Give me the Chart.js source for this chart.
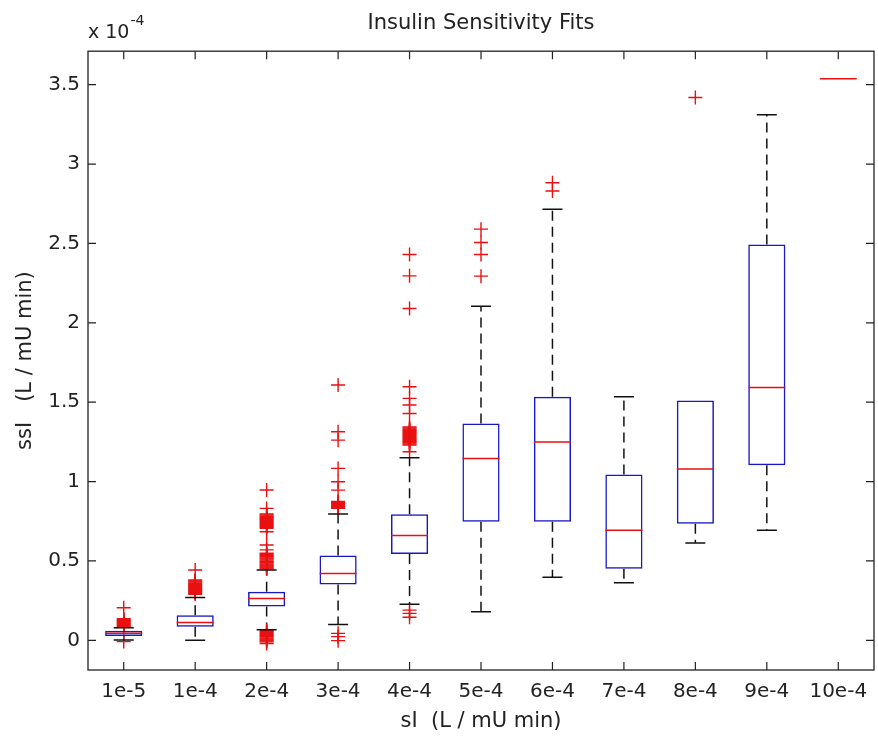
<!DOCTYPE html>
<html lang="en">
<head>
<meta charset="utf-8" />
<title>Insulin Sensitivity Fits</title>
<script src="https://cdn.jsdelivr.net/npm/chart.js@4.4"></script>
<style>
  html,body{margin:0;padding:0;background:#fff;}
  #wrap{width:878px;height:738px;position:relative;}
</style>
</head>
<body>
<div id="wrap"><canvas id="box"></canvas></div>

<script>
/***** ---------- Data (units of 1e-4 L / mU min) ---------- *****/
const labels =['1e-5','1e-4','2e-4','3e-4','4e-4','5e-4','6e-4','7e-4','8e-4','9e-4','10e-4'];
const q1     =[0.027,0.086,0.213,0.352,0.544,0.747,0.747,0.451,0.734,1.102,3.537];
const median =[0.045,0.113,0.263,0.421,0.660,1.146,1.250,0.693,1.079,1.593,3.537];
const q3     =[0.060,0.158,0.306,0.535,0.794,1.366,1.534,1.045,1.511,2.494,3.537];
const lowW   =[0.002,0.000,0.066,0.100,0.227,0.180,0.397,0.363,0.613,0.693,3.537];
const highW  =[0.079,0.270,0.443,0.795,1.150,2.105,2.716,1.534,1.511,3.310,3.537];
const outliers=[
  [0.205,0.082,0.088,0.094,0.100,0.106,0.112,0.118,0.124,0.130,0.136,-0.008],
  [0.443,0.290,0.296,0.302,0.308,0.314,0.320,0.326,0.332,0.338,0.344,0.350,0.356,0.362,0.368,0.374,0.380],
  [0.947,0.831,0.705,0.712,0.718,0.724,0.730,0.736,0.742,0.748,0.754,0.760,0.766,0.772,0.778,0.784,0.790,0.796,0.684,0.600,0.570,
   0.450,0.456,0.462,0.468,0.474,0.480,0.486,0.492,0.498,0.505,0.512,0.518,0.524,0.530,0.536,0.542,0.548,
   0.062,0.056,0.050,0.044,0.038,0.032,0.026,0.020,0.014,0.008,0.002,-0.004,-0.010,-0.020],
  [1.608,1.314,1.261,1.083,0.999,0.946,0.832,0.838,0.844,0.850,0.856,0.862,0.868,0.874,0.044,0.023,-0.002],
  [2.430,2.296,2.090,1.597,1.524,1.482,1.429,1.230,1.236,1.242,1.248,1.254,1.260,1.266,1.272,1.278,1.284,1.290,1.296,
   1.302,1.308,1.314,1.320,1.326,1.332,1.338,1.344,1.188,0.190,0.170,0.145],
  [2.590,2.506,2.430,2.294],
  [2.882,2.830],
  [],
  [3.419],
  [],
  []
];
const yTicks=[0,0.5,1,1.5,2,2.5,3,3.5];
const Y_MIN=-0.187, Y_MAX=3.711;

/***** ---------- Colours ---------- *****/
const BLUE='rgb(24,24,196)';
const RED='rgb(232,16,16)';
const INK='#222';
const FONT='DejaVu Sans';

/***** ---------- Build datasets from the arrays ---------- *****/
const boxData=labels.map((l,i)=>q3[i]>q1[i]?[q1[i],q3[i]]:null);
const medData=labels.map((l,i)=>({x:l,y:median[i]}));
const capData=[],whiskData=[],outData=[];
labels.forEach((l,i)=>{
  if(highW[i]>q3[i]){
    capData.push({x:l,y:highW[i]});
    whiskData.push({x:l,y:q3[i]},{x:l,y:highW[i]},{x:l,y:null});
  }
  if(lowW[i]<q1[i]){
    capData.push({x:l,y:lowW[i]});
    whiskData.push({x:l,y:q1[i]},{x:l,y:lowW[i]},{x:l,y:null});
  }
  outliers[i].forEach(v=>outData.push({x:l,y:v}));
});

/***** ---------- Frame, inward ticks, exponent ---------- *****/
const framePlugin={
  id:'frame',
  afterDraw(chart){
    const {ctx,chartArea:a,scales}=chart;
    ctx.save();
    ctx.strokeStyle=INK;ctx.lineWidth=1.3;
    ctx.strokeRect(a.left,a.top,a.right-a.left,a.bottom-a.top);
    ctx.lineWidth=1.2;
    const T=8;
    ctx.beginPath();
    scales.x.ticks.forEach((t,i)=>{
      const px=scales.x.getPixelForTick(i);
      ctx.moveTo(px,a.bottom);ctx.lineTo(px,a.bottom-T);
      ctx.moveTo(px,a.top);ctx.lineTo(px,a.top+T);
    });
    scales.y.ticks.forEach(t=>{
      const py=scales.y.getPixelForValue(t.value);
      ctx.moveTo(a.left,py);ctx.lineTo(a.left+T,py);
      ctx.moveTo(a.right,py);ctx.lineTo(a.right-T,py);
    });
    ctx.stroke();
    // exponent label
    ctx.fillStyle=INK;
    ctx.textBaseline='alphabetic';
    ctx.font='19px "'+FONT+'"';
    const base='x 10';
    ctx.fillText(base,a.left,a.top-13);
    const w=ctx.measureText(base).width;
    ctx.font='14px "'+FONT+'"';
    ctx.fillText('-4',a.left+w+1,a.top-26);
    ctx.restore();
  }
};

new Chart(document.getElementById('box'),{
  type:'bar',
  data:{
    labels,
    datasets:[
      {type:'line',data:medData,showLine:false,pointStyle:'line',pointRadius:18.5,pointBorderColor:RED,pointBorderWidth:1.5},
      {type:'bar',data:boxData,backgroundColor:'rgba(0,0,0,0)',borderColor:BLUE,borderWidth:1.5,borderSkipped:false,barPercentage:0.52,categoryPercentage:1},
      {type:'line',data:capData,showLine:false,pointStyle:'line',pointRadius:10,pointBorderColor:'#111',pointBorderWidth:1.5},
      {type:'line',data:outData,showLine:false,pointStyle:'cross',pointRadius:7,pointBorderColor:RED,pointBorderWidth:1.4},
      {type:'line',data:whiskData,pointRadius:0,borderColor:'#111',borderWidth:1.5,borderDash:[10,6],spanGaps:false,fill:false}
    ]
  },
  options:{
    responsive:true,maintainAspectRatio:false,animation:false,events:[],
    layout:{autoPadding:false,padding:{left:0,right:4,top:0,bottom:0}},
    plugins:{
      legend:{display:false},tooltip:{enabled:false},
      title:{display:true,text:'Insulin Sensitivity Fits',fullSize:false,color:INK,
        font:{family:FONT,size:21,weight:'normal',lineHeight:1.2},padding:{top:11,bottom:15}}
    },
    scales:{
      x:{
        type:'category',offset:true,
        grid:{display:false,drawTicks:false},border:{display:false},
        ticks:{color:INK,font:{family:FONT,size:20},padding:10,maxRotation:0},
        title:{display:true,text:'sI  (L / mU min)',color:INK,font:{family:FONT,size:21},padding:{top:0}},
        afterFit(s){s.height=68;s.paddingLeft=0;s.paddingRight=0;}
      },
      y:{
        min:Y_MIN,max:Y_MAX,
        grid:{display:false,drawTicks:false},border:{display:false},
        afterBuildTicks(s){s.ticks=yTicks.map(v=>({value:v}));},
        ticks:{color:INK,font:{family:FONT,size:20},padding:8,callback:v=>String(v)},
        title:{display:true,text:'ssI   (L / mU min)',color:INK,font:{family:FONT,size:21},padding:{top:13,bottom:0}},
        afterFit(s){s.width=88;s.paddingTop=0;s.paddingBottom=0;}
      }
    }
  },
  plugins:[framePlugin]
});
</script>
</body>
</html>
